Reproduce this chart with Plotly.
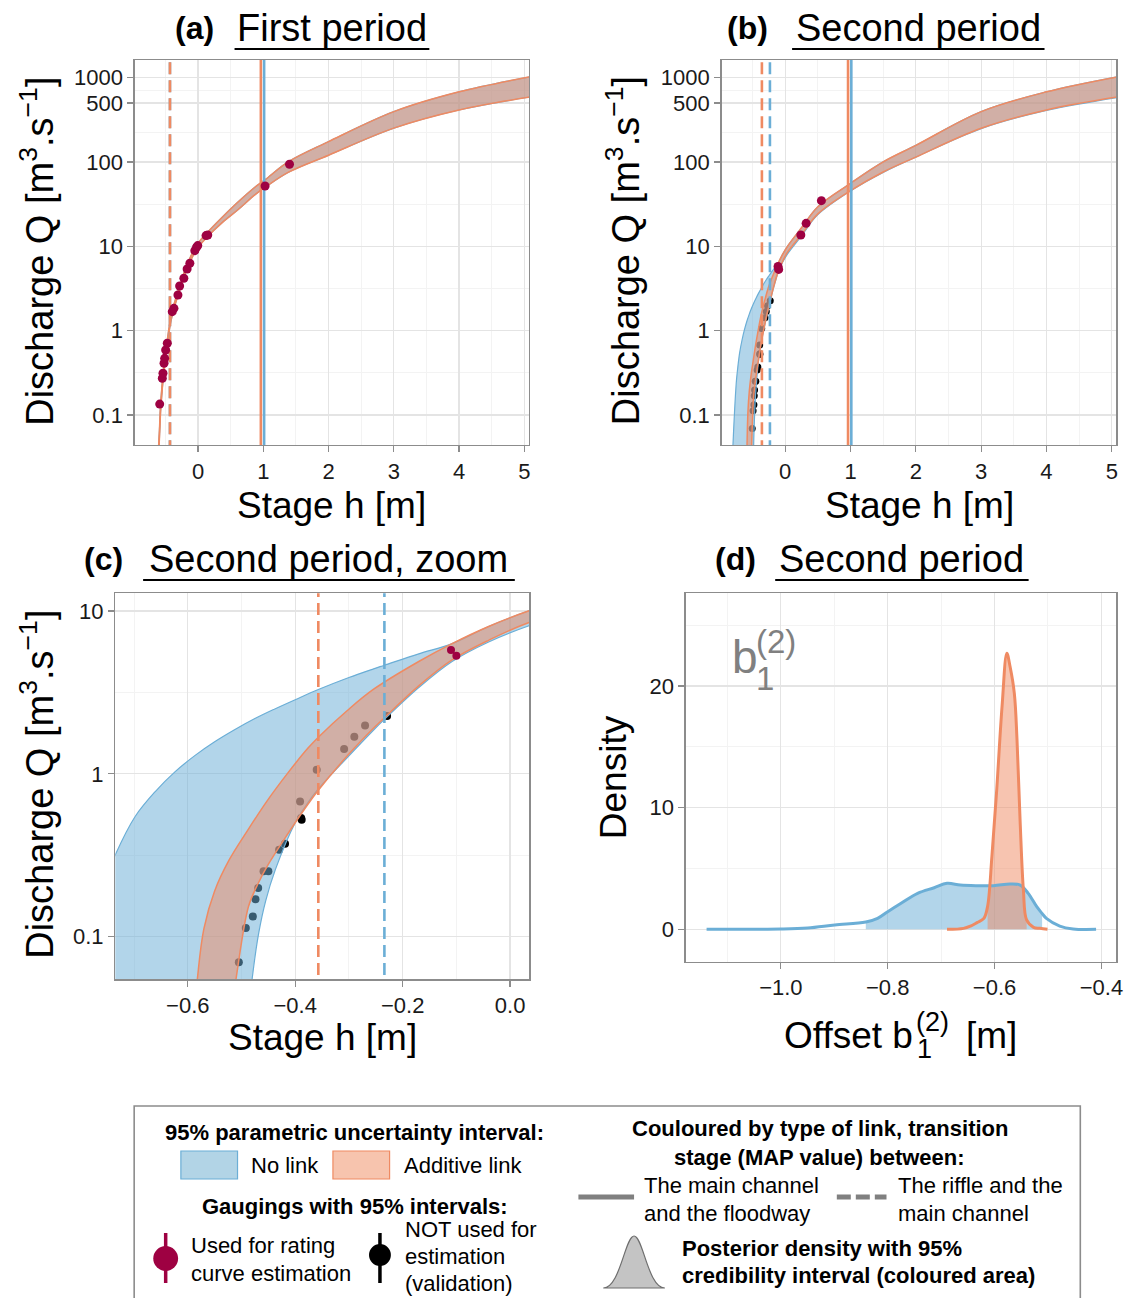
import plotly.graph_objects as go

W, H = 1136, 1298
FONT = "Liberation Sans, Arial, Helvetica, sans-serif"

BLUE_LINE = "rgb(107,174,214)"
BLUE_FILL = "rgba(107,174,214,0.52)"
ORANGE_LINE = "rgb(239,138,98)"
ORANGE_FILL = "rgba(239,138,98,0.5)"
RED = "rgb(158,1,66)"

# ---------------- data ----------------
# Period 1 : gaugings used for estimation
p1_gauge_h = [-0.588, -0.548, -0.538, -0.522, -0.512, -0.497, -0.472, -0.396, -0.370, -0.309,
              -0.283, -0.218, -0.168, -0.126, -0.050, -0.024, -0.005, 0.122, 0.148, 1.027, 1.401]
p1_gauge_q = [0.135, 0.273, 0.313, 0.411, 0.471, 0.59, 0.71, 1.68, 1.84, 2.65,
              3.39, 4.18, 5.38, 6.29, 8.87, 9.73, 10.2, 13.4, 13.6, 51.8, 93.7]

# Period 1 : 95% parametric band (no link and additive link coincide)
p1_band_h = [-0.63, -0.60, -0.57, -0.52, -0.47, -0.42, -0.37, -0.29, -0.17, -0.02, 0.14, 0.37,
             0.62, 0.87, 1.03, 1.38, 2.0, 3.0, 4.0, 5.1]
p1_band_qlow = [0.0178, 0.0398, 0.126, 0.347, 0.692, 1.26, 1.82, 2.88, 5.43, 9.23, 12.9, 19.1,
                27.5, 40.7, 50.1, 75.0, 120, 251, 412, 589]
p1_band_qhigh = [0.0224, 0.0501, 0.151, 0.407, 0.794, 1.41, 2.04, 3.24, 6.03, 10.35, 14.5, 22.1,
                 33.9, 50.1, 61.7, 100, 174, 394, 676, 1023]

# Period 2 : gaugings used for estimation
p2_gauge_h = [-0.110, -0.100, 0.239, 0.320, 0.554]
p2_gauge_q = [5.77, 5.32, 13.6, 18.7, 34.7]

# Period 2 : gaugings NOT used (validation)
p2_valid_h = [-0.505, -0.492, -0.479, -0.474, -0.469, -0.459, -0.450, -0.430, -0.419, -0.391,
              -0.389, -0.388, -0.360, -0.309, -0.290, -0.270, -0.229]
p2_valid_q = [0.0695, 0.113, 0.133, 0.170, 0.199, 0.252, 0.252, 0.342, 0.372, 0.676,
              0.535, 0.522, 1.06, 1.42, 1.69, 1.98, 2.27]

# Period 2 : additive link band edges
p2_add_up_h = [-0.60, -0.582, -0.57, -0.55, -0.523, -0.488, -0.451, -0.414, -0.377, -0.357,
               -0.303, -0.254, -0.17, -0.108, -0.04, 0.034, 0.25, 0.5, 1.0, 1.5, 2.0, 3.0,
               4.0, 5.1]
p2_add_up_q = [0.01, 0.0557, 0.112, 0.191, 0.296, 0.453, 0.692, 1.01, 1.43, 1.68,
               2.45, 3.31, 4.90, 6.31, 8.04, 10.0, 16.6, 29.4, 55.7, 100, 157, 394,
               676, 1023]
p2_add_lo_h = [-0.525, -0.51, -0.487, -0.47, -0.451, -0.414, -0.377, -0.357, -0.303, -0.254,
               -0.234, -0.17, -0.108, -0.04, 0.034, 0.25, 0.5, 1.0, 1.5, 2.0, 3.0, 4.0, 5.1]
p2_add_lo_q = [0.0251, 0.0557, 0.153, 0.209, 0.275, 0.427, 0.646, 0.794, 1.29, 1.91,
               2.21, 3.47, 5.01, 6.61, 8.47, 13.8, 24.2, 45.6, 75.9, 114, 250, 412, 589]

# Period 2 : no link band edges
p2_nl_up_h = [-0.83, -0.80, -0.75, -0.735, -0.698, -0.661, -0.624, -0.587, -0.55, -0.513, -0.476,
              -0.439, -0.399, -0.357, -0.30, -0.254, -0.234, -0.17, -0.108, -0.04, 0.034, 0.25,
              0.5, 1.0, 1.5, 2.0, 3.0, 4.0, 5.1]
p2_nl_up_q = [0.01, 0.0443, 0.238, 0.318, 0.547, 0.776, 1.028, 1.294, 1.574, 1.866, 2.178,
              2.495, 2.864, 3.296, 3.908, 4.416, 4.645, 5.46, 6.31, 8.04, 10.0, 16.6,
              29.4, 55.7, 100, 157, 394, 676, 1023]
p2_nl_lo_h = [-0.495, -0.48, -0.468, -0.455, -0.437, -0.40, -0.377, -0.359, -0.303, -0.254,
              -0.234, -0.17, -0.108, -0.04, 0.034, 0.25, 0.5, 1.0, 1.5, 2.0, 3.0, 4.0, 5.1]
p2_nl_lo_q = [0.0178, 0.0557, 0.105, 0.166, 0.258, 0.501, 0.661, 0.794, 1.26, 1.86,
              2.16, 3.39, 4.90, 6.46, 8.09, 13.3, 23.7, 45.2, 75.0, 114, 248, 407, 582]

# Transition stages (MAP)
p1_kappa_main_flood = {"nolink": 1.012, "additive": 0.962}
p1_kappa_riffle_main = {"nolink": -0.431, "additive": -0.431}
p2_kappa_main_flood = {"nolink": 1.012, "additive": 0.962}
p2_kappa_riffle_main = {"nolink": -0.234, "additive": -0.357}

# Posterior densities of offset b1(2)
dens_nl_b = [-1.139, -1.0, -0.95, -0.899, -0.841, -0.819, -0.80, -0.775, -0.744, -0.713, -0.689,
             -0.664, -0.633, -0.602, -0.571, -0.552, -0.537, -0.521, -0.511, -0.503, -0.478,
             -0.453, -0.41]
dens_nl_d = [0.0, 0.02, 0.1, 0.35, 0.6, 0.9, 1.45, 2.14, 2.96, 3.42, 3.78,
             3.64, 3.59, 3.59, 3.73, 3.64, 2.96, 1.86, 1.3, 0.90, 0.27,
             0.03, 0.0]
ci_nl = [-0.841, -0.511]
dens_add_b = [-0.689, -0.658, -0.645, -0.633, -0.620, -0.613, -0.605, -0.596, -0.586, -0.577,
              -0.571, -0.563, -0.558, -0.552, -0.546, -0.540, -0.527, -0.515, -0.501]
dens_add_d = [0.0, 0.08, 0.27, 0.55, 0.9, 1.9, 5.97, 11.45, 18.3, 22.7,
              21.6, 19.4, 15.6, 8.7, 3.2, 0.77, 0.16, 0.08, 0.0]
ci_add = [-0.613, -0.540]

# Axis ticks
stage_ticks_ab = [0, 1, 2, 3, 4, 5]
q_ticks_ab = [0.1, 1, 10, 100, 500, 1000]
q_ticklabels_ab = ["0.1", "1", "10", "100", "500", "1000"]
stage_ticks_c = [-0.6, -0.4, -0.2, 0.0]
stage_ticklabels_c = ["\u22120.6", "\u22120.4", "\u22120.2", "0.0"]
q_ticks_c = [0.1, 1, 10]
b_ticks_d = [-1.0, -0.8, -0.6, -0.4]
b_ticklabels_d = ["\u22121.0", "\u22120.8", "\u22120.6", "\u22120.4"]
dens_ticks_d = [0, 10, 20]

# ---------------- figure ----------------
fig = go.Figure()


def band(xa, ya, up_h, up_q, lo_h, lo_q, fill, line, lw):
    fig.add_trace(go.Scatter(
        x=lo_h, y=lo_q, mode="lines",
        line=dict(color=line, width=lw, shape="spline", smoothing=1.0),
        xaxis=xa, yaxis=ya, hoverinfo="skip"))
    fig.add_trace(go.Scatter(
        x=up_h, y=up_q, mode="lines", fill="tonexty", fillcolor=fill,
        line=dict(color=line, width=lw, shape="spline", smoothing=1.0),
        xaxis=xa, yaxis=ya, hoverinfo="skip"))


def vline(xa, ya, x, color, dash):
    fig.add_trace(go.Scatter(x=[x, x], y=[1e-4, 1e5], mode="lines",
                             line=dict(color=color, width=2.6, dash=dash),
                             xaxis=xa, yaxis=ya, hoverinfo="skip"))


def points(xa, ya, hs, qs, color, size):
    fig.add_trace(go.Scatter(x=hs, y=qs, mode="markers",
                             marker=dict(color=color, size=size, line=dict(width=0)),
                             xaxis=xa, yaxis=ya, cliponaxis=True))


DASH = "12px,6px"

# Panel (a)
band("x", "y", p1_band_h, p1_band_qhigh, p1_band_h, p1_band_qlow, BLUE_FILL, BLUE_LINE, 1.2)
band("x", "y", p1_band_h, p1_band_qhigh, p1_band_h, p1_band_qlow, ORANGE_FILL, ORANGE_LINE, 1.5)
vline("x", "y", p1_kappa_riffle_main["nolink"], BLUE_LINE, DASH)
vline("x", "y", p1_kappa_riffle_main["additive"], ORANGE_LINE, DASH)
vline("x", "y", p1_kappa_main_flood["additive"], ORANGE_LINE, "solid")
vline("x", "y", p1_kappa_main_flood["nolink"], BLUE_LINE, "solid")
points("x", "y", p1_gauge_h, p1_gauge_q, RED, 9)

# Panels (b) and (c)
for xa, ya, ms in (("x2", "y2", 7), ("x3", "y3", 8)):
    points(xa, ya, p2_valid_h, p2_valid_q, "black", ms)
    band(xa, ya, p2_nl_up_h, p2_nl_up_q, p2_nl_lo_h, p2_nl_lo_q, BLUE_FILL, BLUE_LINE, 1.2)
    band(xa, ya, p2_add_up_h, p2_add_up_q, p2_add_lo_h, p2_add_lo_q, ORANGE_FILL, ORANGE_LINE, 1.5)
    vline(xa, ya, p2_kappa_riffle_main["additive"], ORANGE_LINE, DASH)
    vline(xa, ya, p2_kappa_riffle_main["nolink"], BLUE_LINE, DASH)
    vline(xa, ya, p2_kappa_main_flood["additive"], ORANGE_LINE, "solid")
    vline(xa, ya, p2_kappa_main_flood["nolink"], BLUE_LINE, "solid")
    points(xa, ya, p2_gauge_h, p2_gauge_q, RED, 9 if xa == "x2" else 8)


# Panel (d)
def ci_subset(bs, ds, ci):
    sel = [(b, d) for b, d in zip(bs, ds) if ci[0] <= b <= ci[1]]
    return [s[0] for s in sel], [s[1] for s in sel]


bx, by = ci_subset(dens_nl_b, dens_nl_d, ci_nl)
fig.add_trace(go.Scatter(x=bx, y=by, mode="lines", fill="tozeroy", fillcolor=BLUE_FILL,
                         line=dict(width=0, shape="spline"), xaxis="x4", yaxis="y4"))
ox, oy = ci_subset(dens_add_b, dens_add_d, ci_add)
fig.add_trace(go.Scatter(x=ox, y=oy, mode="lines", fill="tozeroy", fillcolor=ORANGE_FILL,
                         line=dict(width=0, shape="spline"), xaxis="x4", yaxis="y4"))
fig.add_trace(go.Scatter(x=dens_nl_b, y=dens_nl_d, mode="lines",
                         line=dict(color=BLUE_LINE, width=3, shape="spline"),
                         xaxis="x4", yaxis="y4"))
fig.add_trace(go.Scatter(x=dens_add_b, y=dens_add_d, mode="lines",
                         line=dict(color=ORANGE_LINE, width=3, shape="spline"),
                         xaxis="x4", yaxis="y4"))


# ---------------- axes ----------------
def fx(px):
    return px / W


def fy(py):
    return 1 - py / H


GRID = "#e4e4e4"
MINOR = "#f3f3f3"
BORDER = "#8c8c8c"


def axis(domain, rng, tickvals, ticktext, minor_vals, anchor, log=False):
    d = dict(domain=domain, range=rng, anchor=anchor, showline=True, linecolor=BORDER,
             linewidth=1.3, mirror=True, ticks="outside", ticklen=6, tickwidth=1.3,
             tickcolor=BORDER, showgrid=True, gridcolor=GRID, gridwidth=1.3, zeroline=False,
             tickmode="array", tickvals=tickvals, ticktext=ticktext,
             tickfont=dict(family=FONT, size=22, color="#1a1a1a"),
             minor=dict(showgrid=True, gridcolor=MINOR, gridwidth=1, tickmode="array",
                        tickvals=minor_vals, ticks=""),
             fixedrange=True)
    if log:
        d["type"] = "log"
    return d


lay = {}
lay["xaxis"] = axis([fx(135.5), fx(532.3)], [-0.972, 5.072], stage_ticks_ab,
                    [str(v) for v in stage_ticks_ab], [-0.5, 0.5, 1.5, 2.5, 3.5, 4.5], "y")
lay["yaxis"] = axis([fy(445), fy(60)], [-1.354, 3.207], q_ticks_ab, q_ticklabels_ab,
                    [0.316, 3.16, 31.6, 223.6, 707], "x", log=True)
lay["xaxis2"] = axis([fx(726), fx(1123.3)], [-0.975, 5.07], stage_ticks_ab,
                     [str(v) for v in stage_ticks_ab], [-0.5, 0.5, 1.5, 2.5, 3.5, 4.5], "y2")
lay["yaxis2"] = axis([fy(445), fy(60)], [-1.354, 3.207], q_ticks_ab, q_ticklabels_ab,
                     [0.316, 3.16, 31.6, 223.6, 707], "x2", log=True)
lay["xaxis3"] = axis([fx(116), fx(532.7)], [-0.735, 0.036], stage_ticks_c, stage_ticklabels_c,
                     [-0.7, -0.5, -0.3, -0.1], "y3")
lay["yaxis3"] = axis([fy(979.3), fy(593.3)], [-1.262, 1.109], q_ticks_c, ["0.1", "1", "10"],
                     [0.316, 3.16], "x3", log=True)
lay["xaxis4"] = axis([fx(690), fx(1123.3)], [-1.178, -0.372], b_ticks_d, b_ticklabels_d,
                     [-1.1, -0.9, -0.7, -0.5], "y4")
lay["yaxis4"] = axis([fy(961.7), fy(593.3)], [-2.66, 27.62], dens_ticks_d,
                     [str(v) for v in dens_ticks_d], [5, 15, 25], "x4")

# ---------------- text ----------------
ann = []
shapes = []


def txt(x, y, s, size=22, color="black", xanchor="center", angle=0):
    ann.append(dict(x=fx(x), y=fy(y), xref="paper", yref="paper", text=s, showarrow=False,
                    font=dict(family=FONT, size=size, color=color), xanchor=xanchor,
                    yanchor="middle", textangle=angle))


def line(x0, y0, x1, y1, color="black", width=2, dash="solid"):
    shapes.append(dict(type="line", xref="paper", yref="paper", x0=fx(x0), y0=fy(y0),
                       x1=fx(x1), y1=fy(y1), line=dict(color=color, width=width, dash=dash)))


def rect(x0, y0, x1, y1, fill, color, width=1.2):
    shapes.append(dict(type="rect", xref="paper", yref="paper", x0=fx(x0), y0=fy(y0),
                       x1=fx(x1), y1=fy(y1), fillcolor=fill, line=dict(color=color, width=width)))


def circle(cx, cy, r, fill):
    shapes.append(dict(type="circle", xref="paper", yref="paper", x0=fx(cx - r), y0=fy(cy - r),
                       x1=fx(cx + r), y1=fy(cy + r), fillcolor=fill, line=dict(width=0)))


# panel titles
TSZ = 38
for lab, lx, title, tx, ty, ux0, ux1, uy in (
        ("(a)", 196, "First period", 334, 28, 236, 432, 49),
        ("(b)", 752, "Second period", 924, 28, 797, 1051, 49),
        ("(c)", 104, "Second period, zoom", 331, 559, 144, 518, 580),
        ("(d)", 740, "Second period", 907.5, 559, 780, 1035, 580)):
    txt(lx, ty, "<b>%s</b>" % lab, size=32)
    txt(tx, ty, title, size=TSZ)
    line(ux0, uy, ux1, uy, width=2.2)

# axis titles
QT = "Discharge Q [m<sup>3</sup>.s<sup>\u22121</sup>]"
ATS = 37
txt(37, 251, QT, size=38, angle=-90)
txt(627, 251, QT, size=38, angle=-90)
txt(37, 784, QT, size=38, angle=-90)
txt(334, 505, "Stage h [m]", size=ATS)
txt(925, 505, "Stage h [m]", size=ATS)
txt(324, 1037, "Stage h [m]", size=ATS)
txt(617, 777, "Density", size=ATS, angle=-90)
# Offset b1(2) [m]
txt(921, 1035.5, "Offset b", size=ATS, xanchor="right")
txt(920, 1022, "(2)", size=27, xanchor="left")
txt(921, 1049, "1", size=27, xanchor="left")
txt(970, 1035.5, "[m]", size=ATS, xanchor="left")
# b1(2) label inside panel (d)
GRAY = "rgb(128,128,128)"
txt(735, 657, "b", size=46, color=GRAY, xanchor="left")
txt(759, 641, "(2)", size=33, color=GRAY, xanchor="left")
txt(759, 678, "1", size=33, color=GRAY, xanchor="left")

# ---------------- legend box ----------------
rect(135, 1106, 1087, 1320, "rgba(0,0,0,0)", "#8c8c8c", 1.6)
LS = 22
txt(357, 1132, "<b>95% parametric uncertainty interval:</b>", size=LS)
rect(182, 1151, 239, 1179, "rgb(178,212,230)", BLUE_LINE, 1.2)
txt(251, 1165, "No link", size=LS, xanchor="left")
rect(335, 1151, 392, 1179, "rgb(247,196,174)", ORANGE_LINE, 1.2)
txt(404, 1165, "Additive link", size=LS, xanchor="left")
txt(357, 1206, "<b>Gaugings with 95% intervals:</b>", size=LS)
line(166.7, 1233, 166.7, 1283, color=RED, width=3.5)
circle(166.7, 1258.5, 12.5, RED)
txt(190, 1245, "Used for rating", size=LS, xanchor="left")
txt(190, 1273, "curve estimation", size=LS, xanchor="left")
line(382.3, 1233, 382.3, 1283, color="black", width=3.5)
circle(382.3, 1255, 11, "black")
txt(406, 1229, "NOT used for", size=LS, xanchor="left")
txt(406, 1256, "estimation", size=LS, xanchor="left")
txt(406, 1283, "(validation)", size=LS, xanchor="left")

txt(825, 1128, "<b>Couloured by type of link, transition</b>", size=LS)
txt(825, 1157, "<b>stage (MAP value) between:</b>", size=LS)
line(582, 1197, 638, 1197, color="rgb(128,128,128)", width=5)
txt(646, 1185, "The main channel", size=LS, xanchor="left")
txt(646, 1213, "and the floodway", size=LS, xanchor="left")
line(842, 1197, 892, 1197, color="rgb(128,128,128)", width=5, dash="14px,5px")
txt(902, 1185, "The riffle and the", size=LS, xanchor="left")
txt(902, 1213, "main channel", size=LS, xanchor="left")


# density glyph
def P(x, y):
    return "%.5f,%.5f" % (fx(x), fy(y))


path = ("M " + P(607, 1288) + " C " + P(624, 1288) + " " + P(629, 1236) + " " + P(638, 1236) +
        " C " + P(647, 1236) + " " + P(652, 1288) + " " + P(669, 1288) + " Z")
shapes.append(dict(type="path", xref="paper", yref="paper", path=path,
                   fillcolor="rgb(196,196,196)", line=dict(color="rgb(110,110,110)", width=1.2)))
txt(684, 1248, "<b>Posterior density with 95%</b>", size=LS, xanchor="left")
txt(684, 1275, "<b>credibility interval (coloured area)</b>", size=LS, xanchor="left")

fig.update_layout(
    width=W, height=H, margin=dict(l=0, r=0, t=0, b=0),
    paper_bgcolor="white", plot_bgcolor="white", showlegend=False,
    font=dict(family=FONT), annotations=ann, shapes=shapes, **lay)

fig.write_html(
    "out.html", config={"displayModeBar": False, "staticPlot": True},
    post_script=(
        "document.documentElement.style.margin='0px';"
        "document.documentElement.style.padding='0px';"
        "document.documentElement.style.overflow='hidden';"
        "document.body.style.margin='0px';"
        "document.body.style.padding='0px';"
        "document.body.style.overflow='hidden';"
        "var gd=document.getElementsByClassName('plotly-graph-div')[0];"
        "gd.style.position='absolute';gd.style.left='0px';gd.style.top='0px';"))
